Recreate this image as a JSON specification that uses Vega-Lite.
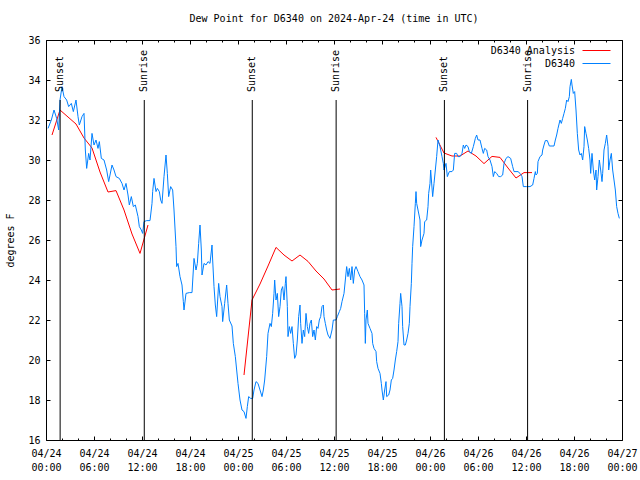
{
  "$schema": "https://vega.github.io/schema/vega-lite/v6.json",
  "width": 576,
  "height": 400,
  "autosize": {"type": "none"},
  "padding": {"left": 46, "top": 40, "right": 18, "bottom": 40},
  "background": "white",
  "title": {"text": "Dew Point for D6340 on 2024-Apr-24 (time in UTC)", "font": "DejaVu Sans Mono", "fontSize": 10, "fontWeight": "normal", "color": "black", "anchor": "middle", "offset": 11},
  "config": {
    "view": {"stroke": "black", "strokeWidth": 1},
    "font": "DejaVu Sans Mono",
    "axis": {"labelFont": "DejaVu Sans Mono", "titleFont": "DejaVu Sans Mono", "labelFontSize": 10, "titleFontSize": 10, "titleFontWeight": "normal", "labelColor": "black", "titleColor": "black", "tickColor": "black", "tickWidth": 1, "domain": false, "grid": false, "labelFlush": false, "labelOverlap": false}
  },
  "datasets": {
    "ana": [
      {"t": "2024-04-24T00:45:00Z", "v": 31.25, "g": "A"},
      {"t": "2024-04-24T01:45:00Z", "v": 32.5, "g": "A"},
      {"t": "2024-04-24T02:45:00Z", "v": 32.15, "g": "A"},
      {"t": "2024-04-24T03:45:00Z", "v": 31.8, "g": "A"},
      {"t": "2024-04-24T04:45:00Z", "v": 31.1, "g": "A"},
      {"t": "2024-04-24T05:45:00Z", "v": 30.6, "g": "A"},
      {"t": "2024-04-24T06:45:00Z", "v": 29.4, "g": "A"},
      {"t": "2024-04-24T07:45:00Z", "v": 28.4, "g": "A"},
      {"t": "2024-04-24T08:45:00Z", "v": 28.47, "g": "A"},
      {"t": "2024-04-24T09:45:00Z", "v": 27.5, "g": "A"},
      {"t": "2024-04-24T10:45:00Z", "v": 26.3, "g": "A"},
      {"t": "2024-04-24T11:45:00Z", "v": 25.33, "g": "A"},
      {"t": "2024-04-24T12:45:00Z", "v": 26.75, "g": "A"},
      {"t": "2024-04-25T00:45:00Z", "v": 19.25, "g": "B"},
      {"t": "2024-04-25T01:45:00Z", "v": 23.0, "g": "B"},
      {"t": "2024-04-25T02:45:00Z", "v": 23.8, "g": "B"},
      {"t": "2024-04-25T03:45:00Z", "v": 24.7, "g": "B"},
      {"t": "2024-04-25T04:45:00Z", "v": 25.63, "g": "B"},
      {"t": "2024-04-25T05:45:00Z", "v": 25.25, "g": "B"},
      {"t": "2024-04-25T06:45:00Z", "v": 24.95, "g": "B"},
      {"t": "2024-04-25T07:45:00Z", "v": 25.25, "g": "B"},
      {"t": "2024-04-25T08:45:00Z", "v": 24.93, "g": "B"},
      {"t": "2024-04-25T09:45:00Z", "v": 24.45, "g": "B"},
      {"t": "2024-04-25T10:45:00Z", "v": 24.05, "g": "B"},
      {"t": "2024-04-25T11:45:00Z", "v": 23.5, "g": "B"},
      {"t": "2024-04-25T12:45:00Z", "v": 23.55, "g": "B"},
      {"t": "2024-04-26T00:45:00Z", "v": 31.13, "g": "C"},
      {"t": "2024-04-26T01:45:00Z", "v": 30.35, "g": "C"},
      {"t": "2024-04-26T02:45:00Z", "v": 30.2, "g": "C"},
      {"t": "2024-04-26T03:45:00Z", "v": 30.2, "g": "C"},
      {"t": "2024-04-26T04:45:00Z", "v": 30.45, "g": "C"},
      {"t": "2024-04-26T05:45:00Z", "v": 30.2, "g": "C"},
      {"t": "2024-04-26T06:45:00Z", "v": 29.82, "g": "C"},
      {"t": "2024-04-26T07:45:00Z", "v": 30.18, "g": "C"},
      {"t": "2024-04-26T08:45:00Z", "v": 30.13, "g": "C"},
      {"t": "2024-04-26T09:45:00Z", "v": 29.6, "g": "C"},
      {"t": "2024-04-26T10:45:00Z", "v": 29.1, "g": "C"},
      {"t": "2024-04-26T11:45:00Z", "v": 29.37, "g": "C"},
      {"t": "2024-04-26T12:45:00Z", "v": 29.37, "g": "C"}
    ],
    "obs": [
      {"t": "2024-04-24T00:15:00Z", "v": 31.58}, {"t": "2024-04-24T00:40:00Z", "v": 32.0}, {"t": "2024-04-24T01:00:00Z", "v": 32.5}, {"t": "2024-04-24T01:20:00Z", "v": 32.08}, {"t": "2024-04-24T01:35:00Z", "v": 31.5}, {"t": "2024-04-24T01:45:00Z", "v": 33.0}, {"t": "2024-04-24T02:00:00Z", "v": 33.67}, {"t": "2024-04-24T02:15:00Z", "v": 33.17}, {"t": "2024-04-24T02:35:00Z", "v": 33.0}, {"t": "2024-04-24T02:50:00Z", "v": 32.67}, {"t": "2024-04-24T03:10:00Z", "v": 32.83}, {"t": "2024-04-24T03:25:00Z", "v": 32.42}, {"t": "2024-04-24T03:45:00Z", "v": 33.0}, {"t": "2024-04-24T04:00:00Z", "v": 32.17}, {"t": "2024-04-24T04:10:00Z", "v": 31.75}, {"t": "2024-04-24T04:30:00Z", "v": 32.17}, {"t": "2024-04-24T04:45:00Z", "v": 32.33}, {"t": "2024-04-24T04:55:00Z", "v": 30.5}, {"t": "2024-04-24T05:05:00Z", "v": 29.58}, {"t": "2024-04-24T05:20:00Z", "v": 30.33}, {"t": "2024-04-24T05:30:00Z", "v": 30.0}, {"t": "2024-04-24T05:45:00Z", "v": 31.33}, {"t": "2024-04-24T06:00:00Z", "v": 30.75}, {"t": "2024-04-24T06:15:00Z", "v": 31.0}, {"t": "2024-04-24T06:30:00Z", "v": 30.58}, {"t": "2024-04-24T06:40:00Z", "v": 30.92}, {"t": "2024-04-24T06:55:00Z", "v": 30.08}, {"t": "2024-04-24T07:15:00Z", "v": 30.0}, {"t": "2024-04-24T07:35:00Z", "v": 29.5}, {"t": "2024-04-24T07:50:00Z", "v": 28.92}, {"t": "2024-04-24T08:00:00Z", "v": 29.25}, {"t": "2024-04-24T08:15:00Z", "v": 29.75}, {"t": "2024-04-24T08:30:00Z", "v": 29.5}, {"t": "2024-04-24T08:45:00Z", "v": 29.17}, {"t": "2024-04-24T09:10:00Z", "v": 29.08}, {"t": "2024-04-24T09:30:00Z", "v": 28.83}, {"t": "2024-04-24T09:45:00Z", "v": 28.5}, {"t": "2024-04-24T10:00:00Z", "v": 28.83}, {"t": "2024-04-24T10:15:00Z", "v": 28.25}, {"t": "2024-04-24T10:25:00Z", "v": 27.75}, {"t": "2024-04-24T10:40:00Z", "v": 28.17}, {"t": "2024-04-24T10:55:00Z", "v": 27.67}, {"t": "2024-04-24T11:10:00Z", "v": 27.75}, {"t": "2024-04-24T11:30:00Z", "v": 27.17}, {"t": "2024-04-24T11:40:00Z", "v": 26.67}, {"t": "2024-04-24T11:55:00Z", "v": 26.5}, {"t": "2024-04-24T12:05:00Z", "v": 26.33}, {"t": "2024-04-24T12:15:00Z", "v": 26.92}, {"t": "2024-04-24T12:35:00Z", "v": 26.97}, {"t": "2024-04-24T13:00:00Z", "v": 26.97}, {"t": "2024-04-24T13:15:00Z", "v": 27.83}, {"t": "2024-04-24T13:20:00Z", "v": 28.42}, {"t": "2024-04-24T13:30:00Z", "v": 29.08}, {"t": "2024-04-24T13:45:00Z", "v": 28.42}, {"t": "2024-04-24T13:55:00Z", "v": 28.58}, {"t": "2024-04-24T14:10:00Z", "v": 28.42}, {"t": "2024-04-24T14:20:00Z", "v": 28.0}, {"t": "2024-04-24T14:30:00Z", "v": 27.83}, {"t": "2024-04-24T14:45:00Z", "v": 29.17}, {"t": "2024-04-24T15:00:00Z", "v": 30.25}, {"t": "2024-04-24T15:10:00Z", "v": 29.33}, {"t": "2024-04-24T15:20:00Z", "v": 28.17}, {"t": "2024-04-24T15:35:00Z", "v": 28.67}, {"t": "2024-04-24T15:50:00Z", "v": 28.5}, {"t": "2024-04-24T16:00:00Z", "v": 27.5}, {"t": "2024-04-24T16:15:00Z", "v": 25.67}, {"t": "2024-04-24T16:20:00Z", "v": 24.67}, {"t": "2024-04-24T16:30:00Z", "v": 24.83}, {"t": "2024-04-24T16:45:00Z", "v": 24.17}, {"t": "2024-04-24T17:00:00Z", "v": 23.75}, {"t": "2024-04-24T17:10:00Z", "v": 22.92}, {"t": "2024-04-24T17:15:00Z", "v": 22.5}, {"t": "2024-04-24T17:30:00Z", "v": 23.33}, {"t": "2024-04-24T17:55:00Z", "v": 23.37}, {"t": "2024-04-24T18:15:00Z", "v": 23.37}, {"t": "2024-04-24T18:25:00Z", "v": 24.5}, {"t": "2024-04-24T18:30:00Z", "v": 25.08}, {"t": "2024-04-24T18:45:00Z", "v": 24.5}, {"t": "2024-04-24T18:55:00Z", "v": 24.83}, {"t": "2024-04-24T19:05:00Z", "v": 25.83}, {"t": "2024-04-24T19:15:00Z", "v": 26.75}, {"t": "2024-04-24T19:25:00Z", "v": 25.5}, {"t": "2024-04-24T19:30:00Z", "v": 24.25}, {"t": "2024-04-24T19:45:00Z", "v": 24.83}, {"t": "2024-04-24T20:00:00Z", "v": 24.75}, {"t": "2024-04-24T20:15:00Z", "v": 24.92}, {"t": "2024-04-24T20:30:00Z", "v": 24.83}, {"t": "2024-04-24T20:45:00Z", "v": 25.75}, {"t": "2024-04-24T20:50:00Z", "v": 25.0}, {"t": "2024-04-24T21:00:00Z", "v": 23.67}, {"t": "2024-04-24T21:10:00Z", "v": 22.75}, {"t": "2024-04-24T21:20:00Z", "v": 22.17}, {"t": "2024-04-24T21:35:00Z", "v": 23.83}, {"t": "2024-04-24T21:45:00Z", "v": 23.17}, {"t": "2024-04-24T22:00:00Z", "v": 22.67}, {"t": "2024-04-24T22:05:00Z", "v": 21.92}, {"t": "2024-04-24T22:20:00Z", "v": 22.83}, {"t": "2024-04-24T22:35:00Z", "v": 23.75}, {"t": "2024-04-24T22:45:00Z", "v": 22.83}, {"t": "2024-04-24T22:55:00Z", "v": 22.0}, {"t": "2024-04-24T23:15:00Z", "v": 21.7}, {"t": "2024-04-24T23:25:00Z", "v": 20.83}, {"t": "2024-04-24T23:40:00Z", "v": 20.17}, {"t": "2024-04-24T23:50:00Z", "v": 19.5},
      {"t": "2024-04-25T00:00:00Z", "v": 18.83}, {"t": "2024-04-25T00:15:00Z", "v": 18.0}, {"t": "2024-04-25T00:30:00Z", "v": 17.5}, {"t": "2024-04-25T00:45:00Z", "v": 17.42}, {"t": "2024-04-25T01:00:00Z", "v": 17.08}, {"t": "2024-04-25T01:10:00Z", "v": 17.67}, {"t": "2024-04-25T01:20:00Z", "v": 18.17}, {"t": "2024-04-25T01:35:00Z", "v": 18.08}, {"t": "2024-04-25T01:50:00Z", "v": 18.08}, {"t": "2024-04-25T02:00:00Z", "v": 18.5}, {"t": "2024-04-25T02:15:00Z", "v": 18.92}, {"t": "2024-04-25T02:30:00Z", "v": 18.83}, {"t": "2024-04-25T02:45:00Z", "v": 18.5}, {"t": "2024-04-25T03:00:00Z", "v": 18.17}, {"t": "2024-04-25T03:10:00Z", "v": 18.5}, {"t": "2024-04-25T03:20:00Z", "v": 19.0}, {"t": "2024-04-25T03:35:00Z", "v": 20.17}, {"t": "2024-04-25T03:45:00Z", "v": 21.33}, {"t": "2024-04-25T04:00:00Z", "v": 21.83}, {"t": "2024-04-25T04:10:00Z", "v": 21.67}, {"t": "2024-04-25T04:20:00Z", "v": 22.33}, {"t": "2024-04-25T04:30:00Z", "v": 23.33}, {"t": "2024-04-25T04:35:00Z", "v": 24.0}, {"t": "2024-04-25T04:45:00Z", "v": 23.0}, {"t": "2024-04-25T04:55:00Z", "v": 23.33}, {"t": "2024-04-25T05:05:00Z", "v": 22.17}, {"t": "2024-04-25T05:15:00Z", "v": 22.67}, {"t": "2024-04-25T05:25:00Z", "v": 23.5}, {"t": "2024-04-25T05:35:00Z", "v": 23.67}, {"t": "2024-04-25T05:45:00Z", "v": 23.0}, {"t": "2024-04-25T05:55:00Z", "v": 23.83}, {"t": "2024-04-25T06:00:00Z", "v": 24.17}, {"t": "2024-04-25T06:10:00Z", "v": 22.67}, {"t": "2024-04-25T06:15:00Z", "v": 21.17}, {"t": "2024-04-25T06:25:00Z", "v": 21.67}, {"t": "2024-04-25T06:35:00Z", "v": 21.33}, {"t": "2024-04-25T06:45:00Z", "v": 21.67}, {"t": "2024-04-25T06:55:00Z", "v": 20.83}, {"t": "2024-04-25T07:05:00Z", "v": 20.08}, {"t": "2024-04-25T07:15:00Z", "v": 20.25}, {"t": "2024-04-25T07:25:00Z", "v": 21.0}, {"t": "2024-04-25T07:35:00Z", "v": 22.17}, {"t": "2024-04-25T07:45:00Z", "v": 22.75}, {"t": "2024-04-25T07:50:00Z", "v": 21.83}, {"t": "2024-04-25T08:00:00Z", "v": 20.83}, {"t": "2024-04-25T08:10:00Z", "v": 21.5}, {"t": "2024-04-25T08:20:00Z", "v": 21.17}, {"t": "2024-04-25T08:30:00Z", "v": 22.33}, {"t": "2024-04-25T08:40:00Z", "v": 21.67}, {"t": "2024-04-25T08:50:00Z", "v": 21.33}, {"t": "2024-04-25T09:00:00Z", "v": 21.83}, {"t": "2024-04-25T09:10:00Z", "v": 22.0}, {"t": "2024-04-25T09:20:00Z", "v": 21.17}, {"t": "2024-04-25T09:30:00Z", "v": 21.5}, {"t": "2024-04-25T09:40:00Z", "v": 21.0}, {"t": "2024-04-25T09:50:00Z", "v": 21.67}, {"t": "2024-04-25T10:00:00Z", "v": 21.58}, {"t": "2024-04-25T10:10:00Z", "v": 22.0}, {"t": "2024-04-25T10:20:00Z", "v": 22.17}, {"t": "2024-04-25T10:30:00Z", "v": 22.67}, {"t": "2024-04-25T10:40:00Z", "v": 22.75}, {"t": "2024-04-25T10:45:00Z", "v": 22.17}, {"t": "2024-04-25T10:55:00Z", "v": 21.83}, {"t": "2024-04-25T11:05:00Z", "v": 21.5}, {"t": "2024-04-25T11:15:00Z", "v": 21.25}, {"t": "2024-04-25T11:30:00Z", "v": 21.08}, {"t": "2024-04-25T11:45:00Z", "v": 21.5}, {"t": "2024-04-25T11:55:00Z", "v": 22.0}, {"t": "2024-04-25T12:15:00Z", "v": 22.0}, {"t": "2024-04-25T12:25:00Z", "v": 22.17}, {"t": "2024-04-25T12:40:00Z", "v": 22.42}, {"t": "2024-04-25T12:50:00Z", "v": 22.58}, {"t": "2024-04-25T13:00:00Z", "v": 22.92}, {"t": "2024-04-25T13:15:00Z", "v": 23.33}, {"t": "2024-04-25T13:25:00Z", "v": 24.0}, {"t": "2024-04-25T13:35:00Z", "v": 24.67}, {"t": "2024-04-25T13:45:00Z", "v": 24.17}, {"t": "2024-04-25T13:55:00Z", "v": 24.58}, {"t": "2024-04-25T14:05:00Z", "v": 24.0}, {"t": "2024-04-25T14:15:00Z", "v": 24.67}, {"t": "2024-04-25T14:25:00Z", "v": 23.83}, {"t": "2024-04-25T14:35:00Z", "v": 24.5}, {"t": "2024-04-25T14:45:00Z", "v": 24.67}, {"t": "2024-04-25T15:00:00Z", "v": 24.42}, {"t": "2024-04-25T15:15:00Z", "v": 24.17}, {"t": "2024-04-25T15:30:00Z", "v": 24.0}, {"t": "2024-04-25T15:45:00Z", "v": 23.75}, {"t": "2024-04-25T15:50:00Z", "v": 22.33}, {"t": "2024-04-25T15:55:00Z", "v": 20.83}, {"t": "2024-04-25T16:00:00Z", "v": 22.0}, {"t": "2024-04-25T16:10:00Z", "v": 22.5}, {"t": "2024-04-25T16:15:00Z", "v": 21.83}, {"t": "2024-04-25T16:30:00Z", "v": 21.58}, {"t": "2024-04-25T16:45:00Z", "v": 21.33}, {"t": "2024-04-25T16:50:00Z", "v": 20.83}, {"t": "2024-04-25T17:00:00Z", "v": 20.58}, {"t": "2024-04-25T17:15:00Z", "v": 20.42}, {"t": "2024-04-25T17:20:00Z", "v": 19.92}, {"t": "2024-04-25T17:30:00Z", "v": 19.58}, {"t": "2024-04-25T17:45:00Z", "v": 19.33}, {"t": "2024-04-25T17:55:00Z", "v": 18.83}, {"t": "2024-04-25T18:00:00Z", "v": 18.5}, {"t": "2024-04-25T18:10:00Z", "v": 18.0}, {"t": "2024-04-25T18:20:00Z", "v": 18.5}, {"t": "2024-04-25T18:30:00Z", "v": 18.92}, {"t": "2024-04-25T18:35:00Z", "v": 18.17}, {"t": "2024-04-25T18:50:00Z", "v": 18.25}, {"t": "2024-04-25T19:00:00Z", "v": 18.5}, {"t": "2024-04-25T19:10:00Z", "v": 19.0}, {"t": "2024-04-25T19:20:00Z", "v": 19.08}, {"t": "2024-04-25T19:30:00Z", "v": 19.5}, {"t": "2024-04-25T19:40:00Z", "v": 20.0}, {"t": "2024-04-25T19:50:00Z", "v": 20.42}, {"t": "2024-04-25T20:00:00Z", "v": 20.92}, {"t": "2024-04-25T20:05:00Z", "v": 21.83}, {"t": "2024-04-25T20:15:00Z", "v": 22.83}, {"t": "2024-04-25T20:20:00Z", "v": 23.33}, {"t": "2024-04-25T20:30:00Z", "v": 22.67}, {"t": "2024-04-25T20:35:00Z", "v": 21.67}, {"t": "2024-04-25T20:45:00Z", "v": 20.75}, {"t": "2024-04-25T20:55:00Z", "v": 20.75}, {"t": "2024-04-25T21:05:00Z", "v": 21.0}, {"t": "2024-04-25T21:15:00Z", "v": 21.33}, {"t": "2024-04-25T21:25:00Z", "v": 21.83}, {"t": "2024-04-25T21:30:00Z", "v": 22.67}, {"t": "2024-04-25T21:40:00Z", "v": 23.83}, {"t": "2024-04-25T21:45:00Z", "v": 24.83}, {"t": "2024-04-25T21:50:00Z", "v": 25.67}, {"t": "2024-04-25T22:00:00Z", "v": 26.67}, {"t": "2024-04-25T22:10:00Z", "v": 27.83}, {"t": "2024-04-25T22:15:00Z", "v": 28.42}, {"t": "2024-04-25T22:20:00Z", "v": 27.83}, {"t": "2024-04-25T22:30:00Z", "v": 27.5}, {"t": "2024-04-25T22:45:00Z", "v": 27.0}, {"t": "2024-04-25T22:50:00Z", "v": 25.67}, {"t": "2024-04-25T23:00:00Z", "v": 26.0}, {"t": "2024-04-25T23:15:00Z", "v": 26.33}, {"t": "2024-04-25T23:20:00Z", "v": 26.92}, {"t": "2024-04-25T23:35:00Z", "v": 27.0}, {"t": "2024-04-25T23:45:00Z", "v": 27.67}, {"t": "2024-04-25T23:50:00Z", "v": 28.33},
      {"t": "2024-04-26T00:00:00Z", "v": 28.83}, {"t": "2024-04-26T00:05:00Z", "v": 29.5}, {"t": "2024-04-26T00:20:00Z", "v": 28.17}, {"t": "2024-04-26T00:30:00Z", "v": 28.83}, {"t": "2024-04-26T00:40:00Z", "v": 29.5}, {"t": "2024-04-26T00:50:00Z", "v": 30.17}, {"t": "2024-04-26T01:00:00Z", "v": 31.0}, {"t": "2024-04-26T01:15:00Z", "v": 30.67}, {"t": "2024-04-26T01:30:00Z", "v": 30.17}, {"t": "2024-04-26T01:40:00Z", "v": 29.83}, {"t": "2024-04-26T01:45:00Z", "v": 29.5}, {"t": "2024-04-26T02:00:00Z", "v": 29.83}, {"t": "2024-04-26T02:10:00Z", "v": 29.17}, {"t": "2024-04-26T02:25:00Z", "v": 29.42}, {"t": "2024-04-26T02:45:00Z", "v": 29.42}, {"t": "2024-04-26T02:55:00Z", "v": 29.5}, {"t": "2024-04-26T03:05:00Z", "v": 30.33}, {"t": "2024-04-26T03:20:00Z", "v": 30.33}, {"t": "2024-04-26T03:30:00Z", "v": 30.17}, {"t": "2024-04-26T03:45:00Z", "v": 30.17}, {"t": "2024-04-26T04:00:00Z", "v": 30.33}, {"t": "2024-04-26T04:10:00Z", "v": 30.75}, {"t": "2024-04-26T04:20:00Z", "v": 30.58}, {"t": "2024-04-26T04:30:00Z", "v": 30.75}, {"t": "2024-04-26T04:45:00Z", "v": 30.67}, {"t": "2024-04-26T04:55:00Z", "v": 30.42}, {"t": "2024-04-26T05:10:00Z", "v": 30.33}, {"t": "2024-04-26T05:25:00Z", "v": 30.67}, {"t": "2024-04-26T05:40:00Z", "v": 31.08}, {"t": "2024-04-26T05:50:00Z", "v": 31.25}, {"t": "2024-04-26T06:00:00Z", "v": 31.0}, {"t": "2024-04-26T06:15:00Z", "v": 31.0}, {"t": "2024-04-26T06:30:00Z", "v": 30.58}, {"t": "2024-04-26T06:40:00Z", "v": 30.33}, {"t": "2024-04-26T06:50:00Z", "v": 30.58}, {"t": "2024-04-26T07:05:00Z", "v": 30.5}, {"t": "2024-04-26T07:15:00Z", "v": 30.17}, {"t": "2024-04-26T07:30:00Z", "v": 30.0}, {"t": "2024-04-26T07:45:00Z", "v": 29.67}, {"t": "2024-04-26T07:55:00Z", "v": 29.17}, {"t": "2024-04-26T08:05:00Z", "v": 29.42}, {"t": "2024-04-26T08:20:00Z", "v": 29.33}, {"t": "2024-04-26T08:35:00Z", "v": 29.17}, {"t": "2024-04-26T08:50:00Z", "v": 29.17}, {"t": "2024-04-26T09:05:00Z", "v": 29.25}, {"t": "2024-04-26T09:15:00Z", "v": 29.83}, {"t": "2024-04-26T09:30:00Z", "v": 30.08}, {"t": "2024-04-26T09:45:00Z", "v": 30.17}, {"t": "2024-04-26T10:05:00Z", "v": 30.08}, {"t": "2024-04-26T10:20:00Z", "v": 29.67}, {"t": "2024-04-26T10:30:00Z", "v": 29.42}, {"t": "2024-04-26T10:45:00Z", "v": 29.42}, {"t": "2024-04-26T11:00:00Z", "v": 29.42}, {"t": "2024-04-26T11:15:00Z", "v": 29.33}, {"t": "2024-04-26T11:30:00Z", "v": 29.17}, {"t": "2024-04-26T11:40:00Z", "v": 28.67}, {"t": "2024-04-26T12:05:00Z", "v": 28.67}, {"t": "2024-04-26T12:30:00Z", "v": 28.67}, {"t": "2024-04-26T12:50:00Z", "v": 28.75}, {"t": "2024-04-26T13:00:00Z", "v": 29.08}, {"t": "2024-04-26T13:10:00Z", "v": 29.42}, {"t": "2024-04-26T13:15:00Z", "v": 29.25}, {"t": "2024-04-26T13:25:00Z", "v": 29.33}, {"t": "2024-04-26T13:30:00Z", "v": 29.92}, {"t": "2024-04-26T13:45:00Z", "v": 30.17}, {"t": "2024-04-26T14:00:00Z", "v": 30.25}, {"t": "2024-04-26T14:05:00Z", "v": 30.5}, {"t": "2024-04-26T14:15:00Z", "v": 30.75}, {"t": "2024-04-26T14:25:00Z", "v": 30.97}, {"t": "2024-04-26T14:40:00Z", "v": 30.97}, {"t": "2024-04-26T14:55:00Z", "v": 30.7}, {"t": "2024-04-26T15:15:00Z", "v": 30.7}, {"t": "2024-04-26T15:30:00Z", "v": 30.7}, {"t": "2024-04-26T15:40:00Z", "v": 31.0}, {"t": "2024-04-26T15:50:00Z", "v": 31.25}, {"t": "2024-04-26T16:00:00Z", "v": 31.58}, {"t": "2024-04-26T16:15:00Z", "v": 32.0}, {"t": "2024-04-26T16:25:00Z", "v": 31.83}, {"t": "2024-04-26T16:35:00Z", "v": 32.08}, {"t": "2024-04-26T16:45:00Z", "v": 32.33}, {"t": "2024-04-26T16:55:00Z", "v": 32.58}, {"t": "2024-04-26T17:05:00Z", "v": 33.0}, {"t": "2024-04-26T17:15:00Z", "v": 32.92}, {"t": "2024-04-26T17:25:00Z", "v": 33.17}, {"t": "2024-04-26T17:30:00Z", "v": 33.67}, {"t": "2024-04-26T17:40:00Z", "v": 34.03}, {"t": "2024-04-26T17:45:00Z", "v": 33.75}, {"t": "2024-04-26T17:55:00Z", "v": 33.33}, {"t": "2024-04-26T18:05:00Z", "v": 33.42}, {"t": "2024-04-26T18:15:00Z", "v": 32.5}, {"t": "2024-04-26T18:25:00Z", "v": 31.33}, {"t": "2024-04-26T18:35:00Z", "v": 30.5}, {"t": "2024-04-26T18:45:00Z", "v": 30.25}, {"t": "2024-04-26T18:55:00Z", "v": 30.33}, {"t": "2024-04-26T19:05:00Z", "v": 30.0}, {"t": "2024-04-26T19:15:00Z", "v": 30.67}, {"t": "2024-04-26T19:20:00Z", "v": 31.67}, {"t": "2024-04-26T19:30:00Z", "v": 31.33}, {"t": "2024-04-26T19:40:00Z", "v": 31.0}, {"t": "2024-04-26T19:50:00Z", "v": 30.58}, {"t": "2024-04-26T20:00:00Z", "v": 30.0}, {"t": "2024-04-26T20:05:00Z", "v": 29.33}, {"t": "2024-04-26T20:15:00Z", "v": 30.33}, {"t": "2024-04-26T20:25:00Z", "v": 29.5}, {"t": "2024-04-26T20:35:00Z", "v": 29.0}, {"t": "2024-04-26T20:45:00Z", "v": 29.5}, {"t": "2024-04-26T20:50:00Z", "v": 28.5}, {"t": "2024-04-26T21:00:00Z", "v": 29.17}, {"t": "2024-04-26T21:10:00Z", "v": 30.0}, {"t": "2024-04-26T21:20:00Z", "v": 29.5}, {"t": "2024-04-26T21:30:00Z", "v": 28.92}, {"t": "2024-04-26T21:35:00Z", "v": 29.33}, {"t": "2024-04-26T21:45:00Z", "v": 30.5}, {"t": "2024-04-26T21:55:00Z", "v": 30.83}, {"t": "2024-04-26T22:05:00Z", "v": 31.25}, {"t": "2024-04-26T22:15:00Z", "v": 30.67}, {"t": "2024-04-26T22:20:00Z", "v": 29.5}, {"t": "2024-04-26T22:30:00Z", "v": 30.0}, {"t": "2024-04-26T22:40:00Z", "v": 30.33}, {"t": "2024-04-26T22:50:00Z", "v": 29.5}, {"t": "2024-04-26T23:00:00Z", "v": 29.0}, {"t": "2024-04-26T23:10:00Z", "v": 28.5}, {"t": "2024-04-26T23:20:00Z", "v": 27.67}, {"t": "2024-04-26T23:30:00Z", "v": 27.33}, {"t": "2024-04-26T23:40:00Z", "v": 27.08}
    ],
    "sun": [
      {"t": "2024-04-24T01:46:00Z", "label": "Sunset"},
      {"t": "2024-04-24T12:17:00Z", "label": "Sunrise"},
      {"t": "2024-04-25T01:47:00Z", "label": "Sunset"},
      {"t": "2024-04-25T12:16:00Z", "label": "Sunrise"},
      {"t": "2024-04-26T01:48:00Z", "label": "Sunset"},
      {"t": "2024-04-26T12:12:00Z", "label": "Sunrise"}
    ]
  },
  "resolve": {"axis": {"x": "independent", "y": "independent"}},
  "layer": [
    {
      "data": {"name": "ana"},
      "mark": {"type": "line", "strokeWidth": 1},
      "encoding": {
        "x": {"field": "t", "type": "temporal",
          "scale": {"type": "utc", "domain": [1713916800000, 1714176000000], "nice": false},
          "axis": {"orient": "bottom", "title": null, "values": [1713916800000, 1713938400000, 1713960000000, 1713981600000, 1714003200000, 1714024800000, 1714046400000, 1714068000000, 1714089600000, 1714111200000, 1714132800000, 1714154400000, 1714176000000], "tickSize": -4, "labelPadding": 12, "labelLineHeight": 14, "labelBaseline": "top", "labelExpr": "[utcFormat(datum.value, '%m/%d'), utcFormat(datum.value, '%H:%M')]"}},
        "y": {"field": "v", "type": "quantitative",
          "scale": {"domain": [16, 36], "nice": false, "zero": false},
          "axis": {"orient": "left", "title": "degrees F", "values": [16, 18, 20, 22, 24, 26, 28, 30, 32, 34, 36], "tickSize": -4, "labelPadding": 10, "titlePadding": 12}},
        "stroke": {"datum": "D6340 Analysis", "type": "nominal",
          "scale": {"domain": ["D6340 Analysis"], "range": ["#ff0000"]},
          "legend": {"title": null, "orient": "none", "legendX": 536, "legendY": -4, "symbolType": "stroke", "symbolSize": 784, "symbolStrokeWidth": 1, "labelAlign": "right", "labelOffset": -36, "labelFont": "DejaVu Sans Mono", "labelFontSize": 10, "labelColor": "black", "labelLimit": 300}},
        "detail": {"field": "g"}
      }
    },
    {
      "data": {"name": "obs"},
      "mark": {"type": "line", "strokeWidth": 1},
      "encoding": {
        "x": {"field": "t", "type": "temporal", "axis": {"orient": "top", "title": null, "labels": false, "values": [1713916800000, 1713938400000, 1713960000000, 1713981600000, 1714003200000, 1714024800000, 1714046400000, 1714068000000, 1714089600000, 1714111200000, 1714132800000, 1714154400000, 1714176000000], "tickSize": -4}},
        "y": {"field": "v", "type": "quantitative", "axis": {"orient": "right", "title": null, "labels": false, "values": [16, 18, 20, 22, 24, 26, 28, 30, 32, 34, 36], "tickSize": -4}},
        "color": {"datum": "D6340", "type": "nominal",
          "scale": {"domain": ["D6340"], "range": ["#0080ff"]},
          "legend": {"title": null, "orient": "none", "legendX": 536, "legendY": 9, "symbolType": "stroke", "symbolSize": 784, "symbolStrokeWidth": 1, "labelAlign": "right", "labelOffset": -36, "labelFont": "DejaVu Sans Mono", "labelFontSize": 10, "labelColor": "black", "labelLimit": 300}}
      }
    },
    {
      "data": {"name": "sun"},
      "mark": {"type": "rule", "color": "black", "strokeWidth": 1},
      "encoding": {
        "x": {"field": "t", "type": "temporal", "axis": {"orient": "bottom", "title": null, "labels": false, "values": [1713924000000, 1713931200000, 1713945600000, 1713952800000, 1713967200000, 1713974400000, 1713988800000, 1713996000000, 1714010400000, 1714017600000, 1714032000000, 1714039200000, 1714053600000, 1714060800000, 1714075200000, 1714082400000, 1714096800000, 1714104000000, 1714118400000, 1714125600000, 1714140000000, 1714147200000, 1714161600000, 1714168800000], "tickSize": -2}},
        "y": {"datum": 33, "axis": null},
        "y2": {"datum": 16}
      }
    },
    {
      "data": {"name": "sun"},
      "mark": {"type": "text", "angle": 270, "align": "left", "baseline": "middle", "font": "DejaVu Sans Mono", "fontSize": 10, "color": "black"},
      "encoding": {
        "x": {"field": "t", "type": "temporal", "axis": {"orient": "top", "title": null, "labels": false, "values": [1713924000000, 1713931200000, 1713945600000, 1713952800000, 1713967200000, 1713974400000, 1713988800000, 1713996000000, 1714010400000, 1714017600000, 1714032000000, 1714039200000, 1714053600000, 1714060800000, 1714075200000, 1714082400000, 1714096800000, 1714104000000, 1714118400000, 1714125600000, 1714140000000, 1714147200000, 1714161600000, 1714168800000], "tickSize": -2}},
        "y": {"datum": 33.4, "axis": null},
        "text": {"field": "label"}
      }
    }
  ]
}
